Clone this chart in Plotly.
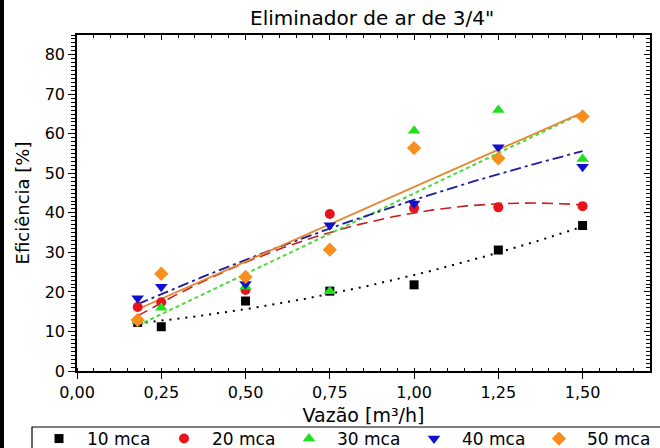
import numpy as np
import plotly.graph_objects as go

# ---- data ----
vazao = [0.18, 0.25, 0.50, 0.75, 1.00, 1.25, 1.50]
ef_10 = [12.3, 11.2, 17.7, 20.2, 21.8, 30.6, 36.8]
ef_20 = [16.2, 17.4, 20.5, 39.7, 41.2, 41.4, 41.7]
ef_30 = [12.6, 16.0, 21.3, 20.2, 60.8, 66.0, 53.6]
ef_40 = [18.4, 21.3, 22.0, 36.9, 42.4, 56.6, 51.7]
ef_50 = [12.9, 24.6, 23.8, 30.7, 56.4, 53.8, 64.4]
series_names = ["10 mca", "20 mca", "30 mca", "40 mca", "50 mca"]
fit_degree = [2, 2, 1, 2, 1]
x_tick_vals = [0.0, 0.25, 0.50, 0.75, 1.00, 1.25, 1.50]
x_tick_text = ["0,00", "0,25", "0,50", "0,75", "1,00", "1,25", "1,50"]
y_tick_vals = [0, 10, 20, 30, 40, 50, 60, 70, 80]

series_vals = [ef_10, ef_20, ef_30, ef_40, ef_50]
marker_colors = ["#000000", "#e8141c", "#1fe01f", "#1010d0", "#f78f1e"]
marker_symbols = ["square", "circle", "triangle-up", "triangle-down", "diamond"]
marker_sizes = [9, 10, 11, 11, 11]
line_colors = ["#000000", "#c81e1e", "#4ed840", "#1c1ca0", "#e6852a"]
line_dashes = ["2px,6px", "11px,6px", "4px,3px", "11px,4px,3px,4px", "solid"]
line_widths = [2, 1.6, 2, 1.8, 1.8]

FONT = "DejaVu Sans"
W, H = 660, 448
ML, MR, MT, MB = 77, 10, 35, 77
PW, PH = W - ML - MR, H - MT - MB

fig = go.Figure()

xs = np.array(vazao)
xfit = np.linspace(xs.min(), xs.max(), 120)
for i, ys in enumerate(series_vals):
    coef = np.polyfit(xs, np.array(ys), fit_degree[i])
    fig.add_trace(go.Scatter(
        x=xfit, y=np.polyval(coef, xfit), mode="lines",
        line=dict(color=line_colors[i], dash=line_dashes[i], width=line_widths[i]),
        showlegend=False, hoverinfo="skip"))

for i, ys in enumerate(series_vals):
    fig.add_trace(go.Scatter(
        x=vazao, y=ys, mode="markers", name=series_names[i],
        marker=dict(color=marker_colors[i], symbol=marker_symbols[i],
                    size=marker_sizes[i], line=dict(width=0))))

# empty trace to bring the mirrored (top/right) axes to life
fig.add_trace(go.Scatter(x=[], y=[], xaxis="x2", yaxis="y2", showlegend=False))

axis_common = dict(showline=True, linecolor="black", linewidth=1.5,
                   showgrid=False, zeroline=False)

fig.update_layout(
    width=W, height=H,
    margin=dict(l=ML, r=MR, t=MT, b=MB, autoexpand=False),
    paper_bgcolor="white", plot_bgcolor="white",
    font=dict(family=FONT, color="black", size=16),
    title=dict(text='Eliminador de ar de 3/4"', x=0.515, xref="paper",
               xanchor="center", y=1 - 18 / H, yanchor="middle",
               font=dict(family=FONT, size=20, color="black")),
    xaxis=dict(range=[0, 1.7], tickvals=x_tick_vals, ticktext=x_tick_text,
               ticks="outside", ticklen=6, tickwidth=1.3, tickcolor="black",
               minor=dict(dtick=0.05, ticks="inside", ticklen=3, tickwidth=1.2,
                          tickcolor="black", showgrid=False),
               tickfont=dict(size=16),
               title=dict(text="Vazão [m³/h]", font=dict(size=19), standoff=8),
               **axis_common),
    yaxis=dict(range=[0, 85], tickvals=y_tick_vals,
               ticks="outside", ticklen=7, tickwidth=1.3, tickcolor="black",
               minor=dict(dtick=1, ticks="outside", ticklen=4, tickwidth=1,
                          tickcolor="black", showgrid=False),
               tickfont=dict(size=16),
               title=dict(text="Eficiência [%]", font=dict(size=18), standoff=10),
               **axis_common),
    xaxis2=dict(matches="x", overlaying="x", side="top", showticklabels=False,
                ticks="inside", ticklen=5, tickwidth=1.3, tickcolor="black",
                tickvals=x_tick_vals,
                minor=dict(dtick=0.05, ticks="inside", ticklen=3, tickwidth=1.2,
                           tickcolor="black", showgrid=False),
                **axis_common),
    yaxis2=dict(matches="y", overlaying="y", side="right", showticklabels=False,
                ticks="inside", ticklen=6, tickwidth=1.3, tickcolor="black",
                tickvals=y_tick_vals,
                minor=dict(dtick=1, ticks="inside", ticklen=4, tickwidth=1,
                           tickcolor="black", showgrid=False),
                **axis_common),
    legend=dict(orientation="h", x=(31 - ML) / PW, xanchor="left",
                y=(MT + PH - 421) / PH, yanchor="top", yref="paper",
                borderwidth=0, bgcolor="rgba(0,0,0,0)",
                font=dict(family=FONT, size=17),
                itemwidth=46, entrywidth=64, entrywidthmode="pixels",
                tracegroupgap=0),
    showlegend=True,
)

# legend frame (runs off the bottom/right edge, as in the reference)
fig.add_shape(type="rect", xref="paper", yref="paper",
              x0=(32 - ML) / PW, x1=(W + 5 - ML) / PW,
              y0=(MT + PH - (H + 5)) / PH, y1=(MT + PH - 427) / PH,
              fillcolor="rgba(0,0,0,0)", line=dict(color="black", width=1.2),
              layer="below")

# thin dark strip along the left edge of the picture
fig.add_shape(type="rect", xref="paper", yref="paper",
              x0=(-3 - ML) / PW, x1=(4 - ML) / PW,
              y0=(MT + PH - H - 3) / PH, y1=(MT + PH + 3) / PH,
              fillcolor="black", line=dict(width=0), layer="above")

fig.write_html("out.html",
               config={"displayModeBar": False},
               post_script="document.body.style.margin='0px';"
                           "document.body.style.padding='0px';")
